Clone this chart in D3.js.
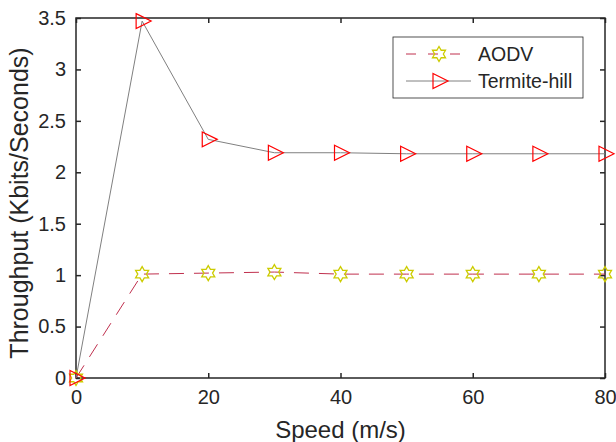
<!DOCTYPE html>
<html>
<head>
<meta charset="utf-8">
<title>Throughput vs Speed</title>
<style>
  body { margin: 0; background: #fff; }
  text { font-family: "Liberation Sans", Arial, sans-serif; fill: #262626; }
</style>
</head>
<body>
<script src="https://cdn.jsdelivr.net/npm/d3@7"></script>
<script>
var speeds = [0, 10, 20, 30, 40, 50, 60, 70, 80];
var aodv = [0, 1.01, 1.02, 1.03, 1.01, 1.01, 1.01, 1.01, 1.01];
var termite = [0, 3.47, 2.32, 2.19, 2.19, 2.18, 2.18, 2.18, 2.18];
var xTicks = [0, 20, 40, 60, 80];
var yTicks = [0, 0.5, 1, 1.5, 2, 2.5, 3, 3.5];

var W = 616, H = 442;
var margin = {top: 18, right: 11, bottom: 64, left: 76};

var svg = d3.select("body").append("svg")
    .attr("width", W).attr("height", H);

var x = d3.scaleLinear().domain([0, 80]).range([margin.left, W - margin.right]);
var y = d3.scaleLinear().domain([0, 3.5]).range([H - margin.bottom, margin.top]);

var axisColor = "#262626";

// axes (ticks inward, mirrored on box)
svg.append("g")
    .attr("transform", "translate(0," + y(0) + ")")
    .call(d3.axisBottom(x).tickValues(xTicks).tickSizeInner(-5).tickSizeOuter(0).tickPadding(12).tickFormat(d3.format("d")))
    .call(function(g){ g.select(".domain").remove(); g.selectAll("text").attr("font-size", 20); });
svg.append("g")
    .attr("transform", "translate(0," + y(3.5) + ")")
    .call(d3.axisTop(x).tickValues(xTicks).tickSizeInner(-5).tickSizeOuter(0).tickFormat(""))
    .call(function(g){ g.select(".domain").remove(); });
svg.append("g")
    .attr("transform", "translate(" + x(0) + ",0)")
    .call(d3.axisLeft(y).tickValues(yTicks).tickSizeInner(-5).tickSizeOuter(0).tickPadding(10).tickFormat(d3.format("")))
    .call(function(g){ g.select(".domain").remove(); g.selectAll("text").attr("font-size", 20); });
svg.append("g")
    .attr("transform", "translate(" + x(80) + ",0)")
    .call(d3.axisRight(y).tickValues(yTicks).tickSizeInner(-5).tickSizeOuter(0).tickFormat(""))
    .call(function(g){ g.select(".domain").remove(); });
svg.selectAll(".tick line").attr("stroke", axisColor).attr("stroke-width", 1.5);
svg.selectAll(".tick text").attr("fill", axisColor);

svg.append("rect")
    .attr("x", x(0)).attr("y", y(3.5))
    .attr("width", x(80) - x(0)).attr("height", y(0) - y(3.5))
    .attr("fill", "none").attr("stroke", axisColor).attr("stroke-width", 1.5);

// labels
svg.append("text")
    .attr("x", (x(0) + x(80)) / 2).attr("y", H - 4)
    .attr("text-anchor", "middle").attr("font-size", 24)
    .text("Speed (m/s)");
svg.append("text")
    .attr("transform", "translate(28," + ((y(0) + y(3.5)) / 2 + 5) + ") rotate(-90)")
    .attr("text-anchor", "middle").attr("font-size", 25)
    .text("Throughput (Kbits/Seconds)");

var line = d3.line().x(function(d, i){ return x(speeds[i]); }).y(function(d){ return y(d); });

// hexagram path
function hexagram(r) {
  var pts = [];
  for (var k = 0; k < 12; k++) {
    var a = -Math.PI / 2 + k * Math.PI / 6;
    var rr = (k % 2 === 0) ? r : r / Math.sqrt(3);
    pts.push([rr * Math.cos(a), rr * Math.sin(a)]);
  }
  return "M" + pts.map(function(p){ return p[0].toFixed(2) + "," + p[1].toFixed(2); }).join("L") + "Z";
}
function triRight(s) {
  return "M" + (-s * 0.5) + "," + (-s * 0.62) + "L" + (s * 0.75) + ",0L" + (-s * 0.5) + "," + (s * 0.62) + "Z";
}

var starColor = "#cccc00", triColor = "#ff0000";
var aodvColor = "#c0304e", termColor = "#808080";

svg.append("path").datum(termite)
    .attr("d", line).attr("fill", "none")
    .attr("stroke", termColor).attr("stroke-width", 1);
svg.append("path").datum(aodv)
    .attr("d", line).attr("fill", "none")
    .attr("stroke", aodvColor).attr("stroke-width", 1).attr("stroke-dasharray", "15,10");

svg.selectAll(".star").data(aodv).enter().append("path")
    .attr("class", "star")
    .attr("transform", function(d, i){ return "translate(" + x(speeds[i]) + "," + y(d) + ")"; })
    .attr("d", hexagram(7.5)).attr("fill", "none")
    .attr("stroke", starColor).attr("stroke-width", 1.3);
svg.selectAll(".tri").data(termite).enter().append("path")
    .attr("class", "tri")
    .attr("transform", function(d, i){ return "translate(" + x(speeds[i]) + "," + y(d) + ")"; })
    .attr("d", triRight(12)).attr("fill", "none")
    .attr("stroke", triColor).attr("stroke-width", 1.2);

// legend
var lg = svg.append("g").attr("transform", "translate(393,37)");
lg.append("rect").attr("width", 190).attr("height", 61)
    .attr("fill", "#fff").attr("stroke", axisColor).attr("stroke-width", 0.8);
lg.append("line").attr("x1", 13).attr("x2", 78).attr("y1", 17).attr("y2", 17)
    .attr("stroke", aodvColor).attr("stroke-dasharray", "10,12");
lg.append("path").attr("transform", "translate(46,17)").attr("d", hexagram(7.5))
    .attr("fill", "none").attr("stroke", starColor).attr("stroke-width", 1.3);
lg.append("text").attr("x", 85).attr("y", 24).attr("font-size", 19.5).text("AODV");
lg.append("line").attr("x1", 13).attr("x2", 78).attr("y1", 44).attr("y2", 44)
    .attr("stroke", termColor);
lg.append("path").attr("transform", "translate(46,44)").attr("d", triRight(12))
    .attr("fill", "none").attr("stroke", triColor).attr("stroke-width", 1.2);
lg.append("text").attr("x", 85).attr("y", 51).attr("font-size", 19.5).text("Termite-hill");
</script>
</body>
</html>
